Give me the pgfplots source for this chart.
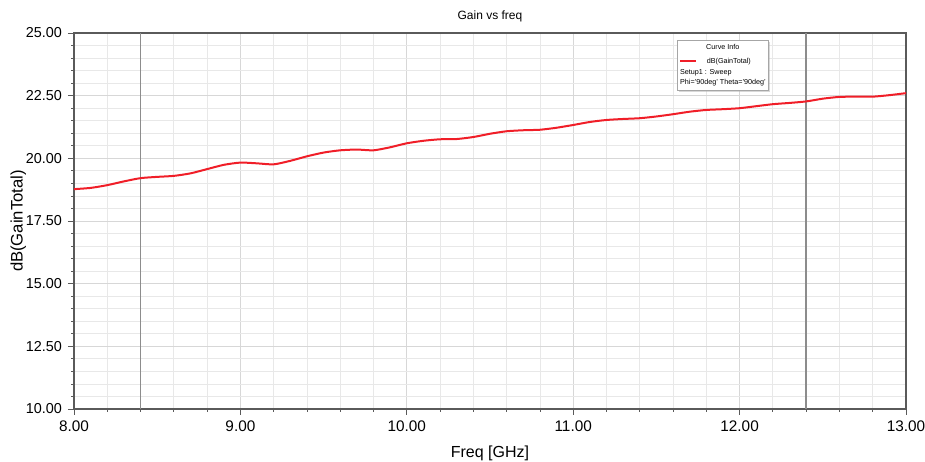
\documentclass[border=0pt]{standalone}
\usepackage{fontspec}
\setmainfont{Liberation Sans}
\usepackage{pgfplots}
\pgfplotsset{compat=1.18}
\usetikzlibrary{shadows}
\definecolor{curvered}{RGB}{240,30,40}
\definecolor{gridmaj}{RGB}{215,215,215}
\definecolor{gridmin}{RGB}{232,232,232}
\definecolor{axisgray}{RGB}{90,90,90}
\definecolor{markgray}{RGB}{140,140,140}
\begin{document}
\begin{tikzpicture}
\begin{axis}[
  scale only axis,
  width=624pt, height=282pt,
  xmin=8, xmax=13, ymin=10, ymax=25,
  xtick={8,9,10,11,12,13},
  ytick={10,12.5,15,17.5,20,22.5,25},
  minor x tick num=4,
  minor y tick num=4,
  grid=both,
  major grid style={gridmaj, line width=0.6pt},
  minor grid style={gridmin, line width=0.6pt},
  axis line style={axisgray, line width=0.8pt},
  tick style={axisgray, line width=0.6pt},
  tick align=outside,
  major tick length=4.5pt,
  minor tick length=2.2pt,
  xtick pos=bottom, ytick pos=left,
  /pgf/number format/assume math mode=true,
  xticklabel style={/pgf/number format/.cd, fixed, fixed zerofill, precision=2, /tikz/.cd, font=\fontsize{11.5}{13}\selectfont, yshift=-1pt},
  yticklabel style={/pgf/number format/.cd, fixed, fixed zerofill, precision=2, /tikz/.cd, font=\fontsize{10.8}{13}\selectfont, xshift=-1pt},
  title={Gain vs freq},
  title style={font=\fontsize{9}{10}\selectfont, yshift=-1.5pt},
  xlabel={Freq [GHz]},
  ylabel={dB(GainTotal)},
  xlabel style={font=\fontsize{12}{14}\selectfont, yshift=-4pt},
  ylabel style={font=\fontsize{12.5}{14}\selectfont, yshift=-7pt},
  clip=true,
]
\addplot[markgray, line width=1.2pt, forget plot] coordinates {(8.4,10) (8.4,25)};
\addplot[markgray, line width=1.2pt, forget plot] coordinates {(12.4,10) (12.4,25)};
\addplot[curvered, line width=1.5pt, smooth, tension=0.4] coordinates {
(8.0,18.77) (8.1,18.82) (8.2,18.93) (8.3,19.08) (8.4,19.21) (8.5,19.26)
(8.6,19.30) (8.7,19.40) (8.8,19.57) (8.9,19.74) (9.0,19.83) (9.1,19.80)
(9.2,19.76) (9.3,19.90) (9.4,20.08) (9.5,20.23) (9.6,20.32) (9.7,20.35)
(9.8,20.32) (9.9,20.44) (10.0,20.60) (10.1,20.70) (10.2,20.76) (10.3,20.77)
(10.4,20.85) (10.5,20.98) (10.6,21.08) (10.7,21.12) (10.8,21.14) (10.9,21.22)
(11.0,21.33) (11.1,21.45) (11.2,21.53) (11.3,21.57) (11.4,21.60) (11.5,21.67)
(11.6,21.76) (11.7,21.86) (11.8,21.93) (11.9,21.96) (12.0,22.00) (12.1,22.08)
(12.2,22.16) (12.3,22.21) (12.4,22.27) (12.5,22.38) (12.6,22.45) (12.7,22.46)
(12.8,22.46) (12.9,22.52) (13.0,22.60)};
\node[anchor=north west, draw=gray!70, fill=white, drop shadow={shadow xshift=1.2pt, shadow yshift=-1.2pt, fill=gray!60},
  inner sep=2pt, minimum width=68pt, minimum height=37.5pt, align=left,
  font=\fontsize{5.4}{7.8}\selectfont] at (rel axis cs:0.725,0.981)
  {\makebox[64pt][c]{Curve Info}\\[2.5pt]
   {\color{curvered}\rule[0.55ex]{12pt}{1pt}}\hspace{8pt}dB(GainTotal)\\
   Setup1 : Sweep\\
   Phi='90deg' Theta='90deg'};
\end{axis}
\pgfresetboundingbox
\path (current axis.south west) ++(-55.5pt,-39.75pt) coordinate (bbl);
\path (current axis.north east) ++(14.25pt,24.75pt) coordinate (btr);
\path[use as bounding box] (bbl) rectangle (btr);
\end{tikzpicture}
\end{document}
